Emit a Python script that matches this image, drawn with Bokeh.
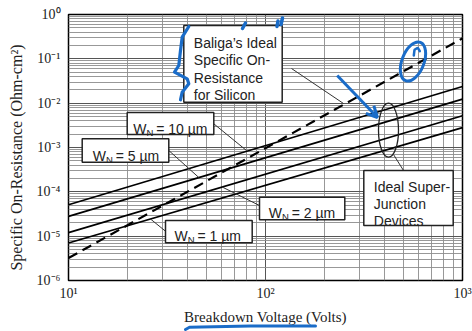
from bokeh.plotting import figure
from bokeh.models import Range1d, FixedTicker, CustomJSTickFormatter, Arrow, OpenHead
from bokeh.core.properties import value
from bokeh.embed import file_html
from bokeh.resources import INLINE

# ---------------- data ----------------
voltage = [10, 1000]                 # breakdown voltage (V)
baliga_ideal = [3.2e-6, 0.29]        # Baliga's ideal Ron,sp for silicon
sj_wn10 = [5.1e-5, 0.0238]           # super-junction, WN = 10 um
sj_wn5 = [2.8e-5, 0.0123]            # WN = 5 um
sj_wn2 = [1.2e-5, 0.0052]            # WN = 2 um
sj_wn1 = [7.0e-6, 0.0028]            # WN = 1 um
x_ticks = [10, 100, 1000]
y_ticks = [1e-6, 1e-5, 1e-4, 1e-3, 1e-2, 1e-1, 1]
x_minor = [m * d for d in (10, 100) for m in range(2, 10)]
y_minor = [m * 10.0 ** k for k in range(-6, 0) for m in range(2, 10)]

# ---------------- layout helpers (page px -> data) ----------------
FX0, FX1, FY0, FY1 = 68.0, 462.0, 14.0, 280.0


def P(px, py):
    v = 10 ** (1 + 2 * (px - FX0) / (FX1 - FX0))
    r = 10 ** (-6 * (py - FY0) / (FY1 - FY0))
    return v, r


def PX(points):
    xs, ys = zip(*[P(a, b) for a, b in points])
    return list(xs), list(ys)


BLUE = "#1a6cc8"
SERIF = "Liberation Serif"
SANS = "Liberation Sans"

p = figure(width=472, height=331, x_axis_type="log", y_axis_type="log",
           x_range=Range1d(10, 1000), y_range=Range1d(1e-6, 1),
           output_backend="svg", toolbar_location=None,
           min_border_left=68, min_border_right=10, min_border_top=14,
           min_border_bottom=51)
p.background_fill_color = "white"
p.border_fill_color = "white"
p.outline_line_color = "black"
p.outline_line_width = 1.5

fmt = CustomJSTickFormatter(code="""
const e = Math.round(Math.log10(tick));
const m = {'-':'\u207b','0':'\u2070','1':'\u00b9','2':'\u00b2','3':'\u00b3','4':'\u2074','5':'\u2075','6':'\u2076','7':'\u2077','8':'\u2078','9':'\u2079'};
return '10' + String(e).split('').map(c => m[c]).join('');
""")

xt = FixedTicker(ticks=x_ticks, minor_ticks=x_minor)
yt = FixedTicker(ticks=y_ticks, minor_ticks=y_minor)
p.xaxis.ticker = xt
p.yaxis.ticker = yt
p.xgrid.ticker = xt
p.ygrid.ticker = yt
for g in (p.xgrid[0], p.ygrid[0]):
    g.grid_line_color = "#555555"
    g.grid_line_width = 1
    g.minor_grid_line_color = "#8c8c8c"
    g.minor_grid_line_width = 0.9

for ax in (p.xaxis[0], p.yaxis[0]):
    ax.formatter = fmt
    ax.axis_line_color = None
    ax.major_tick_line_color = None
    ax.minor_tick_line_color = None
    ax.major_tick_out = 0
    ax.minor_tick_out = 0
    ax.major_label_text_font = SERIF
    ax.major_label_text_font_size = "14px"
    ax.major_label_text_color = "#222222"
    ax.axis_label_text_font = SERIF
    ax.axis_label_text_font_style = "normal"
    ax.axis_label_text_color = "#222222"

p.xaxis.axis_label = "Breakdown Voltage (Volts)"
p.xaxis.axis_label_text_font_size = "15px"
p.xaxis.major_label_standoff = 5
p.xaxis.axis_label_standoff = 5
p.yaxis.axis_label = "Specific On-Resistance (Ohm-cm\u00b2)" + "\u00a0" * 5
p.yaxis.axis_label_text_font_size = "16px"
p.yaxis.major_label_standoff = 8
p.yaxis.axis_label_standoff = 9

# ---------------- curves ----------------
for s in (sj_wn10, sj_wn5, sj_wn2, sj_wn1):
    p.line(voltage, s, line_color="black", line_width=1.7)
p.line(voltage, baliga_ideal, line_color="black", line_width=2.2, line_dash="10 6")

# ---------------- leader lines ----------------
leaders = [
    [(291, 68), (343, 103)],
    [(213.3, 123.3), (246, 150)],
    [(168.3, 150), (198.3, 177)],
    [(259, 205), (221.7, 186.5)],
    [(165, 230.7), (150, 218.5)],
    [(393, 154), (403, 170)],
]
for seg in leaders:
    xs, ys = PX(seg)
    p.line(xs, ys, line_color="#333333", line_width=1)

# ellipse grouping the super-junction lines
ex, ey = P(388, 129.7)
p.ellipse(x=[ex], y=[ey], width=20, height=54, width_units="screen",
          height_units="screen", fill_color=None, line_color="#222222", line_width=1.3)

# ---------------- label boxes ----------------
boxes = [
    (183.3, 25, 281.7, 101.7),
    (126.7, 112, 213.3, 134),
    (81.7, 138.3, 168.3, 161.7),
    (259, 196.7, 344.3, 219.3),
    (165, 220, 251.7, 242.3),
    (363.3, 170, 452.7, 225),
]
for l, t, r, b in boxes:
    x0, y0 = P(l, t)
    x1, y1 = P(r, b)
    p.quad(left=[x0], right=[x1], top=[y0], bottom=[y1], fill_color="white",
           line_color="#222222", line_width=1.5)

multi = [
    (193.3, 42.7, "Baliga\u2019s Ideal"),
    (193.3, 59.8, "Specific On-"),
    (193.3, 77.0, "Resistance"),
    (193.3, 94.3, "for Silicon"),
    (373.3, 186.0, "Ideal Super-"),
    (373.3, 203.3, "Junction"),
    (373.3, 220.0, "Devices"),
]
tx, ty = PX([(a, b) for a, b, _ in multi])
p.text(tx, ty, text=[c for _, _, c in multi], text_font=value(SANS),
       text_font_size="14px", text_baseline="alphabetic", text_align="left",
       text_color="#222222")

wn = [
    (132.7, 128.5, "= 10 \u00b5m"),
    (92.3, 155.3, "= 5 \u00b5m"),
    (268.3, 212.7, "= 2 \u00b5m"),
    (174.0, 235.7, "= 1 \u00b5m"),
]
wx, wy = PX([(a, b) for a, b, _ in wn])
p.text(wx, wy, text=["W"] * len(wn), text_font=value(SANS), text_font_size="14px",
       text_baseline="alphabetic", text_align="left", text_color="#222222")
p.text(wx, wy, text=["N"] * len(wn), text_font=value(SANS), text_font_size="9.5px",
       text_baseline="alphabetic", text_align="left", text_color="#222222",
       x_offset=13.2, y_offset=3.5)
p.text(wx, wy, text=[c for _, _, c in wn], text_font=value(SANS), text_font_size="14px",
       text_baseline="alphabetic", text_align="left", text_color="#222222",
       x_offset=23)

# ---------------- hand-drawn blue marks ----------------
squig = [(188.3, 26), (181.7, 36.7), (180, 50), (178.3, 65), (174, 71.7),
         (186.7, 78.3), (188.3, 83.3), (181.7, 91.7), (180, 99.3)]
xs, ys = PX(squig)
p.line(xs, ys, line_color=BLUE, line_width=3.2, line_join="round", line_cap="round")
for seg in ([(242, 28), (245, 22.5)], [(276.5, 26), (277.5, 20.5)], [(280.5, 24), (282, 17.5)]):
    xs, ys = PX(seg)
    p.line(xs, ys, line_color=BLUE, line_width=3.5, line_cap="round")

cx, cy = P(412.5, 61)
p.ellipse(x=[cx], y=[cy], width=22, height=41, angle=-0.37, width_units="screen",
          height_units="screen", fill_color=None, line_color=BLUE, line_width=3)
xs, ys = PX([(413.3, 55), (414, 49.3), (417.3, 47.3), (419.3, 50.7)])
p.line(xs, ys, line_color=BLUE, line_width=2.5, line_cap="round")

ax0, ay0 = P(336.7, 75)
ax1, ay1 = P(377, 117)
p.add_layout(Arrow(end=OpenHead(size=11, line_color=BLUE, line_width=3),
                   x_start=ax0, y_start=ay0, x_end=ax1, y_end=ay1,
                   line_color=BLUE, line_width=3))

xs, ys = PX([(185, 329), (189, 326.8), (250, 325.5), (315, 325.5)])
p.line(xs, ys, line_color=BLUE, line_width=3, line_cap="round", level="overlay")

open("out.html", "w").write(file_html(p, INLINE))
